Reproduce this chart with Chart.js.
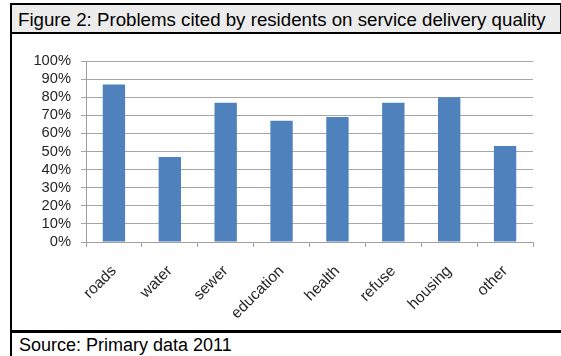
<!DOCTYPE html>
<html>
<head>
<meta charset="utf-8">
<script src="https://cdn.jsdelivr.net/npm/chart.js@4"></script>
<style>
  html, body { margin: 0; padding: 0; background: #ffffff; }
  body { width: 561px; height: 356px; position: relative; overflow: hidden; font-family: "Liberation Sans", Arial, sans-serif; }
  #title { position: absolute; left: 10px; top: 3px; width: 542px; height: 26px; background: #ececec;
           border: 2px solid #000; color: #000; font-size: 18.7px; line-height: 27px; padding-left: 6px; padding-top: 1px; box-sizing: content-box; white-space: nowrap; }
  #leftline { position: absolute; left: 10px; top: 33px; width: 2px; height: 323px; background: #000; }
  #bottomline { position: absolute; left: 10px; top: 330px; width: 551px; height: 3px; background: #000; }
  #source { position: absolute; left: 19px; top: 336px; font-size: 18px; line-height: 18px; color: #000; white-space: nowrap; }
  #wrap { position: absolute; left: 0; top: 0; width: 561px; height: 356px; }
</style>
</head>
<body>
<div id="title">Figure 2: Problems cited by residents on service delivery quality</div>
<div id="leftline"></div>
<div id="bottomline"></div>
<div id="source">Source: Primary data 2011</div>
<div id="wrap"><canvas id="c" width="561" height="356"></canvas></div>
<script>
const categories = ["roads", "water", "sewer", "education", "health", "refuse", "housing", "other"];
const values = [87, 47, 77, 67, 69, 77, 80, 53];
const yTicks = [0, 10, 20, 30, 40, 50, 60, 70, 80, 90, 100];

new Chart(document.getElementById("c"), {
  type: "bar",
  data: {
    labels: categories,
    datasets: [{
      data: values,
      backgroundColor: "#4f81bd",
      borderWidth: 0,
      barPercentage: 0.4,
      categoryPercentage: 1.0
    }]
  },
  options: {
    responsive: false,
    animation: false,
    devicePixelRatio: 1,
    layout: { padding: { top: 61, right: 28, left: 0, bottom: 0 } },
    plugins: { legend: { display: false }, tooltip: { enabled: false }, title: { display: false } },
    scales: {
      x: {
        grid: { display: true, offset: true, drawOnChartArea: false, drawTicks: true, tickLength: 5, color: "#a0a0a0", lineWidth: 1 },
        border: { display: true, color: "#a0a0a0", width: 1 },
        ticks: { autoSkip: false, maxRotation: 45, minRotation: 45, color: "#262626", padding: 15, font: { family: "Liberation Sans, Arial, sans-serif", size: 15.5 } },
        afterFit: (s) => { s.height = 356 - 242; }
      },
      y: {
        min: 0, max: 100,
        afterBuildTicks: (s) => { s.ticks = yTicks.map(v => ({ value: v })); },
        grid: { color: "#a6a6a6", lineWidth: 1, drawTicks: true, tickLength: 5 },
        border: { display: true, color: "#a0a0a0", width: 1 },
        ticks: { autoSkip: false, color: "#262626", padding: 10, callback: (v) => v + "%", font: { family: "Liberation Sans, Arial, sans-serif", size: 14.7 } },
        afterFit: (s) => { s.width = 86; }
      }
    }
  }
});
</script>
</body>
</html>
